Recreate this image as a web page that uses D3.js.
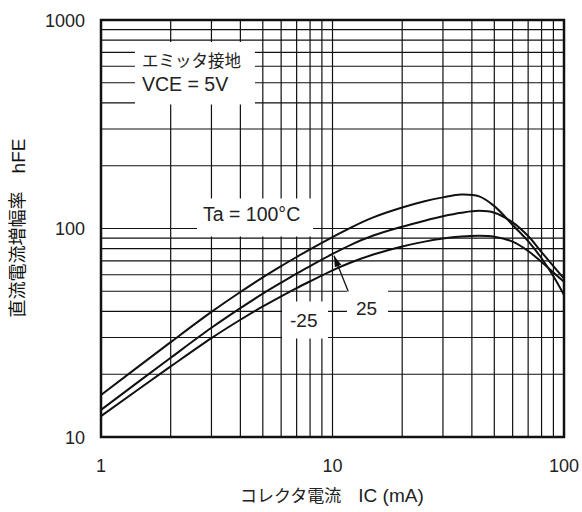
<!DOCTYPE html>
<html>
<head>
<meta charset="utf-8">
<script src="https://cdn.jsdelivr.net/npm/d3@7"></script>
<style>
  body { margin: 0; background: #fff; }
  text { font-family: "Liberation Sans", "Noto Sans CJK JP", sans-serif; fill: #222; }
</style>
</head>
<body>
<svg id="chart" width="582" height="512"></svg>
<script>
// collector current (mA) sample points
const currentMA = [1, 2, 3, 4, 5, 6, 7, 8, 10, 12, 15, 20, 25, 30, 36, 43, 50, 60, 70, 80, 90, 100];
// hFE for each ambient temperature
const hfeTa100 = [15.9, 28.5, 39.8, 49.6, 58.3, 66, 73, 79.5, 91, 101, 113, 126, 135, 141, 145.5, 142.5, 128, 104, 87, 72, 59, 48];
const hfeTa25  = [13.5, 24, 33.4, 41.5, 48.7, 55, 60.8, 66, 75.5, 83.5, 92.5, 102, 109, 114.5, 119, 121.5, 119, 107, 92, 77, 66, 57.5];
const hfeTaM25 = [12.6, 21.8, 29.8, 36.5, 42.3, 47.3, 51.8, 55.8, 63, 68.7, 75, 82, 86.5, 89.5, 91.5, 92.3, 91.3, 86.5, 78, 69, 61.5, 55.5];

const xTicks = [1, 10, 100];
const xTickLabels = ["1", "10", "100"];
const yTicks = [10, 100, 1000];
const yTickLabels = ["10", "100", "1000"];

const svg = d3.select("#chart");

// plot area
const plotL = 101, plotR = 564, plotT = 20, plotB = 437;

const x = d3.scaleLog().domain([1, 100]).range([plotL, plotR]);
const y = d3.scaleLog().domain([10, 1000]).range([plotB, plotT]);

// grid lines
const grid = svg.append("g").attr("stroke", "#111").attr("stroke-width", 1.2);
grid.selectAll(".vx")
  .data(x.ticks().filter(d => d > 1 && d < 100))
  .enter().append("line")
  .attr("x1", d => x(d)).attr("x2", d => x(d))
  .attr("y1", plotT).attr("y2", plotB);
grid.selectAll(".hy")
  .data(y.ticks().filter(d => d > 10 && d < 1000))
  .enter().append("line")
  .attr("x1", plotL).attr("x2", plotR)
  .attr("y1", d => y(d)).attr("y2", d => y(d));

// white boxes behind the annotations
const boxes = [
  [135, 42, 120, 62.5],
  [197, 198.5, 116, 38],
  [282, 301.5, 46, 37],
  [347, 288, 41, 45]
];
svg.selectAll(".box")
  .data(boxes)
  .enter().append("rect")
  .attr("x", d => d[0]).attr("y", d => d[1])
  .attr("width", d => d[2]).attr("height", d => d[3])
  .attr("fill", "#fff");

// curves
const line = d3.line()
  .x((d, i) => x(currentMA[i]))
  .y(d => y(d))
  .curve(d3.curveCatmullRom.alpha(0.5));

[hfeTa100, hfeTa25, hfeTaM25].forEach(series => {
  svg.append("path")
    .datum(series)
    .attr("fill", "none")
    .attr("stroke", "#111")
    .attr("stroke-width", 2)
    .attr("d", line);
});

// frame
svg.append("rect")
  .attr("x", plotL).attr("y", plotT)
  .attr("width", plotR - plotL).attr("height", plotB - plotT)
  .attr("fill", "none")
  .attr("stroke", "#111")
  .attr("stroke-width", 2.5);

// arrow pointing at the 25 degC curve
const tail = [x(11.7), y(49.9)];
const tip = [x(10.15), y(74)];
svg.append("line")
  .attr("x1", tail[0]).attr("y1", tail[1])
  .attr("x2", tip[0]).attr("y2", tip[1])
  .attr("stroke", "#111").attr("stroke-width", 1.3);
const ang = Math.atan2(tip[1] - tail[1], tip[0] - tail[0]);
const hl = 11, hw = 3.5;
const bx = tip[0] - hl * Math.cos(ang), by = tip[1] - hl * Math.sin(ang);
svg.append("path")
  .attr("d", `M${tip[0]},${tip[1]}L${bx + hw * Math.sin(ang)},${by - hw * Math.cos(ang)}L${bx - hw * Math.sin(ang)},${by + hw * Math.cos(ang)}Z`)
  .attr("fill", "#111");

// tick labels
svg.selectAll(".xt")
  .data(xTicks)
  .enter().append("text")
  .attr("x", d => x(d))
  .attr("y", 472)
  .attr("text-anchor", "middle")
  .style("font-size", "18px")
  .text((d, i) => xTickLabels[i]);

svg.selectAll(".yt")
  .data(yTicks)
  .enter().append("text")
  .attr("x", 85)
  .attr("y", d => y(d) + 6.5)
  .attr("text-anchor", "end")
  .style("font-size", "18px")
  .text((d, i) => yTickLabels[i]);

// annotations
const notes = [
  ["エミッタ接地", 142, 67, 16.5],
  ["VCE = 5V", 142, 91, 19.5],
  ["Ta = 100°C", 203, 221, 19.5],
  ["-25", 290, 327, 19],
  ["25", 356, 315, 19]
];
svg.selectAll(".note")
  .data(notes)
  .enter().append("text")
  .attr("x", d => d[1]).attr("y", d => d[2])
  .style("font-size", d => d[3] + "px")
  .text(d => d[0]);

// axis titles
const xTitle = svg.append("text")
  .attr("x", 240).attr("y", 502)
  .style("font-size", "17px");
xTitle.append("tspan").text("コレクタ電流　");
xTitle.append("tspan").style("font-size", "19px").text("IC (mA)");

const yTitle = svg.append("text")
  .attr("transform", "translate(18,228) rotate(-90)")
  .attr("text-anchor", "middle")
  .attr("dominant-baseline", "central")
  .style("font-size", "18px")
  .style("fill", "#111");
yTitle.append("tspan").text("直流電流増幅率　");
yTitle.append("tspan").style("font-size", "19px").text("hFE");
</script>
</body>
</html>
